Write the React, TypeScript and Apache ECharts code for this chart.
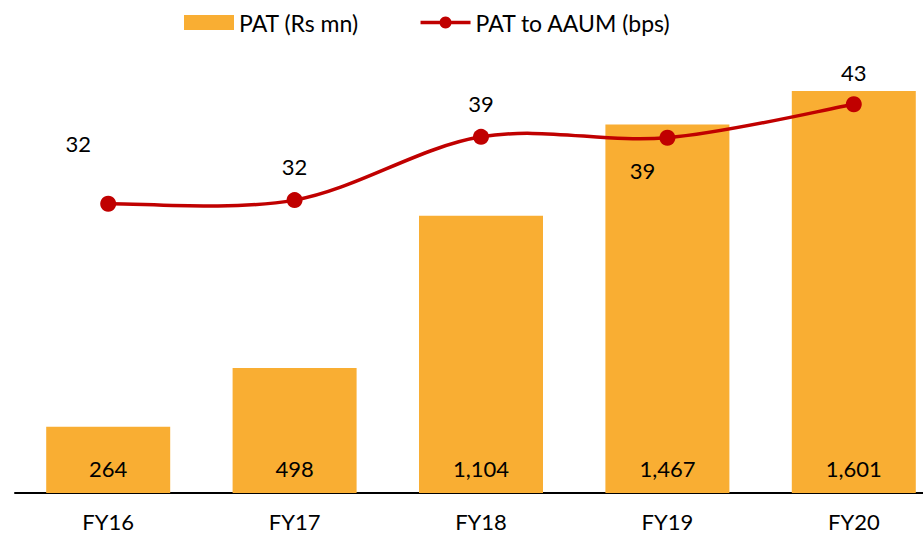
import React, { useEffect, useRef } from "react";
import * as echarts from "echarts";

const categories = ["FY16", "FY17", "FY18", "FY19", "FY20"];
const patValues = [264, 498, 1104, 1467, 1601];
const bpsValues = [32, 32.4, 39.4, 39.3, 43];
const bpsLabelOffsets: [number, number][] = [
  [-30, -60],
  [0, -34],
  [0, -33],
  [-25, 33],
  [0, -32],
];

const FONT = "Lato, 'Liberation Sans', sans-serif";
const RED = "#C00000";

function smoothPath(pts: number[][]): string {
  const n = pts.length;
  if (n === 0) return "";
  let d = `M${pts[0][0]},${pts[0][1]}`;
  for (let i = 0; i < n - 1; i++) {
    const p0 = pts[Math.max(0, i - 1)];
    const p1 = pts[i];
    const p2 = pts[i + 1];
    const p3 = pts[Math.min(n - 1, i + 2)];
    const c1x = p1[0] + (p2[0] - p0[0]) / 6;
    const c1y = p1[1] + (p2[1] - p0[1]) / 6;
    const c2x = p2[0] - (p3[0] - p1[0]) / 6;
    const c2y = p2[1] - (p3[1] - p1[1]) / 6;
    d += ` C${c1x},${c1y} ${c2x},${c2y} ${p2[0]},${p2[1]}`;
  }
  return d;
}

export default function App() {
  const ref = useRef<HTMLDivElement>(null);
  useEffect(() => {
    if (!ref.current) return;
    const chart = echarts.init(ref.current, undefined, { renderer: "svg" });
    chart.setOption({
      animation: false,
      textStyle: { fontFamily: FONT },
      legend: {
        top: 11,
        left: 184,
        padding: 0,
        itemWidth: 50,
        itemHeight: 15,
        itemGap: 60,
        textStyle: { fontSize: 23, color: "#000", fontFamily: FONT },
        data: [
          { name: "PAT (Rs mn)", icon: "rect" },
          {
            name: "PAT to AAUM (bps)",
            lineStyle: { color: RED, width: 3.5, opacity: 1 },
            itemStyle: { color: RED },
          },
        ],
      },
      grid: {
        left: 15,
        right: -24,
        top: 41,
        bottom: 47,
        containLabel: false,
        outerBoundsMode: "none",
      },
      xAxis: {
        type: "category",
        data: categories,
        axisLine: { show: true, lineStyle: { color: "#000", width: 2 } },
        axisTick: { show: false },
        axisLabel: { fontSize: 22, color: "#000", margin: 17, fontFamily: FONT },
      },
      yAxis: [
        { type: "value", min: 0, max: 1800, show: false, splitLine: { show: false } },
        { type: "value", min: 0, max: 50, show: false, splitLine: { show: false } },
      ],
      series: [
        {
          name: "PAT (Rs mn)",
          type: "bar",
          z: 2,
          data: patValues,
          barWidth: 124,
          itemStyle: { color: "#F9AE33" },
          label: {
            show: true,
            position: "insideBottom",
            distance: 14,
            fontSize: 22,
            color: "#000",
            fontFamily: FONT,
            formatter: (p: any) => Number(p.value).toLocaleString("en-US"),
          },
        },
        {
          type: "custom",
          yAxisIndex: 1,
          z: 4,
          silent: true,
          clip: false,
          data: [[0, bpsValues[0]]],
          renderItem: (_params: any, api: any) => {
            const pts = bpsValues.map((v, i) => api.coord([i, v]));
            return {
              type: "path",
              z2: 10,
              shape: { pathData: smoothPath(pts) },
              style: { stroke: RED, lineWidth: 3.5, fill: "none" },
            };
          },
        },
        {
          name: "PAT to AAUM (bps)",
          type: "line",
          yAxisIndex: 1,
          z: 6,
          data: bpsValues.map((v, i) => ({
            value: v,
            label: {
              show: true,
              position: "inside",
              offset: bpsLabelOffsets[i],
              fontSize: 22,
              color: "#000",
              fontFamily: FONT,
              formatter: (p: any) => String(Math.round(p.value)),
            },
          })),
          symbol: "circle",
          symbolSize: 16,
          lineStyle: { color: RED, width: 3.5, opacity: 0 },
          itemStyle: { color: RED },
        },
      ],
    });
    return () => chart.dispose();
  }, []);
  return (
    <div
      ref={ref}
      style={{ position: "fixed", left: 0, top: 0, width: 923, height: 540, background: "#fff" }}
    />
  );
}
